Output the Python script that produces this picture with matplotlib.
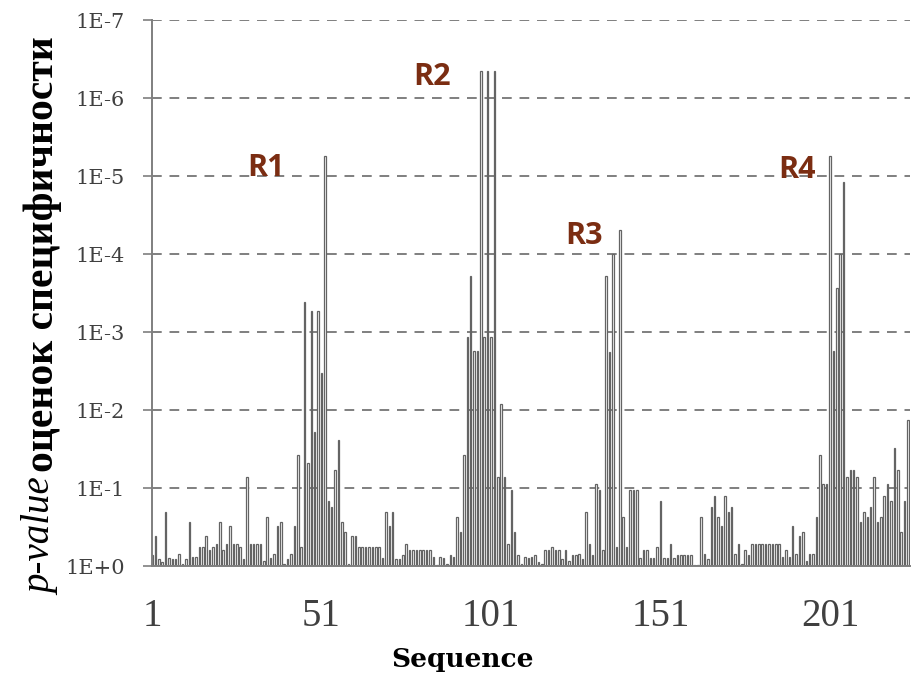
import numpy as np
import matplotlib
matplotlib.use('Agg')
import matplotlib.pyplot as plt

# -log10(p) for each position of the sequence
scores = [
    0.14, 0.38, 0.09, 0.05, 0.69, 0.10, 0.09, 0.09, 0.16, 0.03,   # 1-10
    0.09, 0.57, 0.12, 0.12, 0.24, 0.24, 0.38, 0.20, 0.24, 0.28,   # 11-20
    0.57, 0.20, 0.28, 0.51, 0.28, 0.28, 0.24, 0.09, 1.14, 0.28,   # 21-30
    0.28, 0.28, 0.28, 0.06, 0.63, 0.10, 0.16, 0.51, 0.57, 0.03,   # 31-40
    0.09, 0.16, 0.51, 1.42, 0.24, 3.38, 1.32, 3.27, 1.72, 3.27,   # 41-50
    2.48, 5.26, 0.83, 0.76, 1.23, 1.62, 0.57, 0.44, 0.02, 0.38,   # 51-60
    0.38, 0.24, 0.24, 0.24, 0.24, 0.24, 0.24, 0.24, 0.10, 0.69,   # 61-70
    0.51, 0.69, 0.09, 0.09, 0.14, 0.28, 0.20, 0.20, 0.20, 0.20,   # 71-80
    0.20, 0.20, 0.20, 0.12, 0.01, 0.12, 0.10, 0.03, 0.14, 0.12,   # 81-90
    0.63, 0.44, 1.42, 2.93, 3.72, 2.76, 2.76, 6.35, 2.93, 6.35,   # 91-100
    2.93, 6.35, 1.14, 2.08, 1.14, 0.28, 0.97, 0.44, 0.14, 0.03,   # 101-110
    0.12, 0.10, 0.12, 0.14, 0.05, 0.03, 0.20, 0.20, 0.24, 0.20,   # 111-120
    0.20, 0.09, 0.20, 0.06, 0.14, 0.14, 0.16, 0.09, 0.69, 0.28,   # 121-130
    0.14, 1.05, 0.97, 0.20, 3.72, 2.75, 4.00, 0.24, 4.31, 0.63,   # 131-140
    0.24, 0.97, 0.97, 0.97, 0.10, 0.20, 0.20, 0.10, 0.10, 0.24,   # 141-150
    0.83, 0.10, 0.10, 0.28, 0.10, 0.14, 0.14, 0.14, 0.14, 0.14,   # 151-160
    0.01, 0.01, 0.63, 0.16, 0.09, 0.76, 0.90, 0.63, 0.51, 0.90,   # 161-170
    0.69, 0.76, 0.16, 0.28, 0.03, 0.20, 0.14, 0.28, 0.28, 0.28,   # 171-180
    0.28, 0.28, 0.28, 0.28, 0.28, 0.28, 0.12, 0.20, 0.12, 0.51,   # 181-190
    0.16, 0.38, 0.44, 0.06, 0.16, 0.16, 0.63, 1.42, 1.05, 1.05,   # 191-200
    5.26, 2.76, 3.57, 4.00, 4.92, 1.14, 1.23, 1.23, 1.14, 0.57,   # 201-210
    0.69, 0.63, 0.76, 1.14, 0.57, 0.63, 0.90, 1.05, 0.83, 1.51,   # 211-220
    1.23, 0.44, 0.83, 1.87,                                       # 221-224
]
positions = np.arange(1, len(scores) + 1)

y_ticks = list(range(8))
y_labels = ['1E+0', '1E-1', '1E-2', '1E-3', '1E-4', '1E-5', '1E-6', '1E-7']
x_ticks = [1, 51, 101, 151, 201]

regions = ['R1', 'R2', 'R3', 'R4']
region_x = [34.7, 83.7, 128.3, 191.2]
region_y = [5.0, 6.17, 4.13, 4.97]

serif = ['Liberation Serif', 'DejaVu Serif']
wide_serif = ['DejaVu Serif']
bar_color = '#646464'
grid_color = '#7f7f7f'
label_color = '#7b2d12'

fig = plt.figure(figsize=(9.16, 6.81), dpi=100)
ax = fig.add_axes([152 / 916, 115 / 681, 758 / 916, 546 / 681])

ax.bar(positions, scores, width=0.45, color='white', edgecolor=bar_color,
       linewidth=0.9, zorder=3)

ax.set_xlim(1, 224.6)
ax.set_ylim(0, 7)
ax.set_yticks(y_ticks)
ax.set_yticklabels(y_labels, fontsize=15, family=wide_serif, color='#404040')
ax.set_xticks(x_ticks)
ax.set_xticklabels([str(t) for t in x_ticks], fontsize=28, family=serif, color='#404040')
ax.tick_params(axis='x', length=0, pad=23)
ax.tick_params(axis='y', length=6.5, width=1.2, color=grid_color, pad=13, direction='out')

ax.yaxis.grid(True, linestyle=(0, (5, 4)), color=grid_color, linewidth=1.4, zorder=1)
for s in ['top', 'right']:
    ax.spines[s].set_visible(False)
for s in ['left', 'bottom']:
    ax.spines[s].set_color(grid_color)
    ax.spines[s].set_linewidth(1.4)
    ax.spines[s].set_zorder(4)

for name, xx, yy in zip(regions, region_x, region_y):
    ax.text(xx, yy, name, fontsize=22, fontweight='bold', color=label_color,
            ha='center', va='baseline', family=['Open Sans', 'DejaVu Sans'], zorder=5)

ax.set_xlabel('Sequence', fontsize=19, fontweight='bold', family=wide_serif)
ax.xaxis.set_label_coords(0.409, -0.148)

# y label: italic "p-value" followed by bold russian text
t1 = fig.text(42 / 916, 1 - 595 / 681, 'p-value', rotation=90, fontsize=28,
              style='italic', family=serif, ha='center', va='bottom')
fig.canvas.draw()
bb = t1.get_window_extent()
fig.text(43 / 916, (bb.y1 + 6) / fig.bbox.height, 'оценок специфичности', rotation=90,
         fontsize=30, fontweight='bold', family=serif, ha='center', va='bottom')

plt.savefig('out.png', dpi=100)
